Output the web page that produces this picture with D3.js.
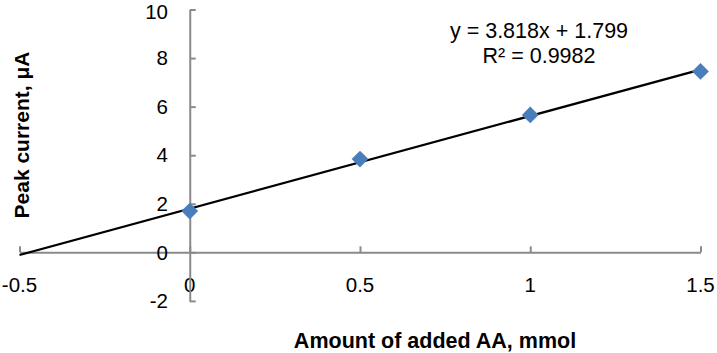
<!DOCTYPE html>
<html>
<head>
<meta charset="utf-8">
<script src="https://cdn.jsdelivr.net/npm/d3@7"></script>
<style>
  html, body { margin: 0; padding: 0; background: #fff; }
  svg { display: block; font-family: "Liberation Sans", Arial, Helvetica, sans-serif; }
</style>
</head>
<body>
<svg id="chart" width="717" height="353"></svg>
<script>
// ---- data ----
const xValues = [0, 0.5, 1, 1.5];
const yValues = [1.70, 3.84, 5.66, 7.45];
const xTicks = [-0.5, 0, 0.5, 1, 1.5];
const yTicks = [-2, 0, 2, 4, 6, 8, 10];
const trendSlope = [3.818];
const trendIntercept = [1.799];
const equationLines = ["y = 3.818x + 1.799", "R² = 0.9982"];
const xTitle = "Amount of added AA, mmol";
const yTitle = "Peak current, μA";

// ---- layout ----
const svg = d3.select("#chart");
const x = d3.scaleLinear().domain([-0.5, 1.5]).range([19.5, 700.5]);
const y = d3.scaleLinear().domain([-2, 10]).range([300.9, 9.5]);
const axisColor = "#8a8a8a";

// x axis at y=0
const xAxisG = svg.append("g").attr("transform", `translate(0,${y(0)})`)
  .call(d3.axisTop(x).tickValues(xTicks).tickSize(6).tickSizeOuter(0).tickFormat(() => ""));
xAxisG.select(".domain").attr("stroke", axisColor).attr("stroke-width", 2);
xAxisG.selectAll(".tick line").attr("stroke", axisColor).attr("stroke-width", 2);

// x tick labels
svg.append("g").selectAll("text").data(xTicks).join("text")
  .attr("x", d => x(d)).attr("y", 285).attr("dy", "0.35em")
  .attr("text-anchor", "middle").attr("font-size", 20.5).attr("fill", "#000")
  .text(d => String(d));

// y axis at x=0
const yAxisG = svg.append("g").attr("transform", `translate(${x(0)},0)`)
  .call(d3.axisRight(y).tickValues(yTicks).tickSize(6).tickSizeOuter(0).tickFormat(() => ""));
yAxisG.select(".domain").attr("stroke", axisColor).attr("stroke-width", 2);
yAxisG.selectAll(".tick line").attr("stroke", axisColor).attr("stroke-width", 2);

// y tick labels (top label kept inside the page)
svg.append("g").selectAll("text").data(yTicks).join("text")
  .attr("x", 168).attr("y", d => Math.max(y(d), 11.5)).attr("dy", "0.35em")
  .attr("text-anchor", "end").attr("font-size", 20.5).attr("fill", "#000")
  .text(d => String(d));

// trendline
const xd = x.domain();
svg.append("line")
  .attr("x1", x(xd[0])).attr("y1", y(trendSlope[0] * xd[0] + trendIntercept[0]))
  .attr("x2", x(xd[1])).attr("y2", y(trendSlope[0] * xd[1] + trendIntercept[0]))
  .attr("stroke", "#000").attr("stroke-width", 2.2);

// markers
const pts = xValues.map((v, i) => ({ x: v, y: yValues[i] }));
svg.append("g").selectAll("path").data(pts).join("path")
  .attr("d", d3.symbol().type(d3.symbolSquare).size(140))
  .attr("transform", d => `translate(${x(d.x)},${y(d.y)}) rotate(45)`)
  .attr("fill", "#4a7ebb");

// equation
svg.append("g").selectAll("text").data(equationLines).join("text")
  .attr("x", 539).attr("y", (d, i) => 38 + i * 25)
  .attr("text-anchor", "middle").attr("font-size", 21.5).attr("fill", "#000")
  .text(d => d);

// axis titles
svg.append("text").attr("x", 435).attr("y", 340).attr("dy", "0.35em")
  .attr("text-anchor", "middle").attr("font-size", 21.5).attr("font-weight", "bold")
  .text(xTitle);
svg.append("text").attr("transform", "translate(22,135) rotate(-90)").attr("dy", "0.35em")
  .attr("text-anchor", "middle").attr("font-size", 21).attr("font-weight", "bold")
  .text(yTitle);
</script>
</body>
</html>
